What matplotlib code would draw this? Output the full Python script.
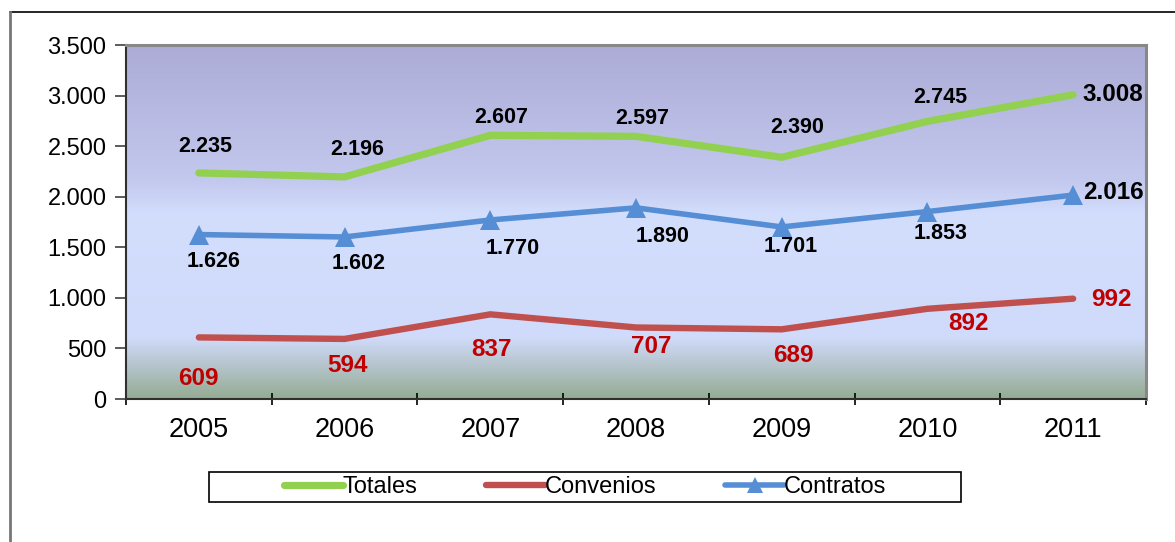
import matplotlib
matplotlib.use("Agg")
import matplotlib.pyplot as plt
import numpy as np
from matplotlib.colors import LinearSegmentedColormap
from matplotlib.lines import Line2D
from matplotlib.patches import Rectangle
from matplotlib.ticker import FuncFormatter, FixedLocator

plt.rcParams['font.family'] = ['Liberation Sans', 'DejaVu Sans']

years = ['2005', '2006', '2007', '2008', '2009', '2010', '2011']
totales = [2235, 2196, 2607, 2597, 2390, 2745, 3008]
convenios = [609, 594, 837, 707, 689, 892, 992]
contratos = [1626, 1602, 1770, 1890, 1701, 1853, 2016]

W, H = 1175, 542
fig = plt.figure(figsize=(W / 100, H / 100), dpi=100)
L, R, T, B = 126, 1146, 45, 399
ax = fig.add_axes([L / W, 1 - B / H, (R - L) / W, (B - T) / H])

x = np.arange(len(years))
ax.set_xlim(-0.5, len(years) - 0.5)
ax.set_ylim(0, 3500)

# gradient background
stops = [(0.0, (149/255, 172/255, 148/255)),
         (0.17, (208/255, 218/255, 250/255)),
         (0.52, (211/255, 222/255, 253/255)),
         (0.62, (195/255, 200/255, 238/255)),
         (1.0, (172/255, 172/255, 214/255))]
cmap = LinearSegmentedColormap.from_list('bg', stops)
grad = np.linspace(0, 1, 400).reshape(-1, 1)
ax.imshow(grad, aspect='auto', cmap=cmap, origin='lower',
          extent=(-0.5, len(years) - 0.5, 0, 3500), zorder=0)

green = '#92D050'
red = '#C0504D'
blue = '#558ED5'

ax.plot(x, totales, color=green, lw=5.2, solid_capstyle='round', zorder=3)
ax.plot(x, convenios, color=red, lw=4.6, solid_capstyle='round', zorder=3)
ax.plot(x, contratos, color=blue, lw=4.0, solid_capstyle='round', marker='^',
        markersize=15, markeredgewidth=0, zorder=4)

fmt = lambda v: f"{v:,}".replace(',', '.')

off_tot = [(6, 26), (13, 27), (11, 18), (6, 18), (15, 30), (13, 24), (40, 0)]
off_con = [(15, -27), (14, -27), (22, -29), (27, -29), (9, -20), (13, -22), (40, 3)]
off_cnv = [(0, -41), (3, -27), (1, -35), (15, -19), (12, -26), (41, -15), (38, -1)]
size_blk = [15.5, 15.5, 15.5, 15.5, 15.5, 15.5, 17.5]

for i in range(len(years)):
    ax.annotate(fmt(totales[i]), (x[i], totales[i]), xytext=off_tot[i],
                textcoords='offset pixels', ha='center', va='center',
                fontsize=size_blk[i], fontweight='bold', color='black', zorder=5)
    ax.annotate(fmt(contratos[i]), (x[i], contratos[i]), xytext=off_con[i],
                textcoords='offset pixels', ha='center', va='center',
                fontsize=size_blk[i], fontweight='bold', color='black', zorder=5)
    ax.annotate(fmt(convenios[i]), (x[i], convenios[i]), xytext=off_cnv[i],
                textcoords='offset pixels', ha='center', va='center',
                fontsize=17.5, fontweight='bold', color='#C00000', zorder=5)

# axes styling
ax.yaxis.set_major_locator(FixedLocator(np.arange(0, 3501, 500)))
ax.yaxis.set_major_formatter(FuncFormatter(lambda v, p: fmt(int(v))))
ax.set_xticks(x)
ax.set_xticklabels(years)
ax.tick_params(axis='x', which='major', length=0, labelsize=19.5, pad=13)
ax.set_xticks(np.arange(-0.5, len(years), 1.0), minor=True)
ax.tick_params(axis='x', which='minor', length=8, width=1.2, direction='inout', color='black')
ax.tick_params(axis='y', length=8, width=1.2, direction='out', labelsize=17, pad=6, color='#404040')

for s in ['left', 'bottom']:
    ax.spines[s].set_color('#303030')
    ax.spines[s].set_linewidth(1.5)
for s in ['top', 'right']:
    ax.spines[s].set_color('#888888')
    ax.spines[s].set_linewidth(2.2)

# legend
handles = [Line2D([], [], color=green, lw=5.2, solid_capstyle='round'),
           Line2D([], [], color=red, lw=4.6, solid_capstyle='round'),
           Line2D([], [], color=blue, lw=4.0, marker='^', markersize=12,
                  markeredgewidth=0, solid_capstyle='round')]
fig.legend(handles, ['Totales', 'Convenios', 'Contratos'], loc='center',
           bbox_to_anchor=(585 / W, 1 - 487 / H), ncol=3, frameon=False,
           fontsize=17, handlelength=2.5, handletextpad=0.0, columnspacing=2.9)
fig.patches.append(Rectangle((209 / W, 1 - 502 / H), (961 - 209) / W, 30 / H,
                             transform=fig.transFigure, fill=False,
                             edgecolor='black', lw=1.2))

# outer chart frame
fig.lines.append(Line2D([10 / W, 1], [1 - 12 / H, 1 - 12 / H], transform=fig.transFigure,
                        color='black', lw=1.2))
fig.lines.append(Line2D([10 / W, 10 / W], [0, 1 - 12 / H], transform=fig.transFigure,
                        color='#777777', lw=2))

fig.savefig('out.png', dpi=100)
